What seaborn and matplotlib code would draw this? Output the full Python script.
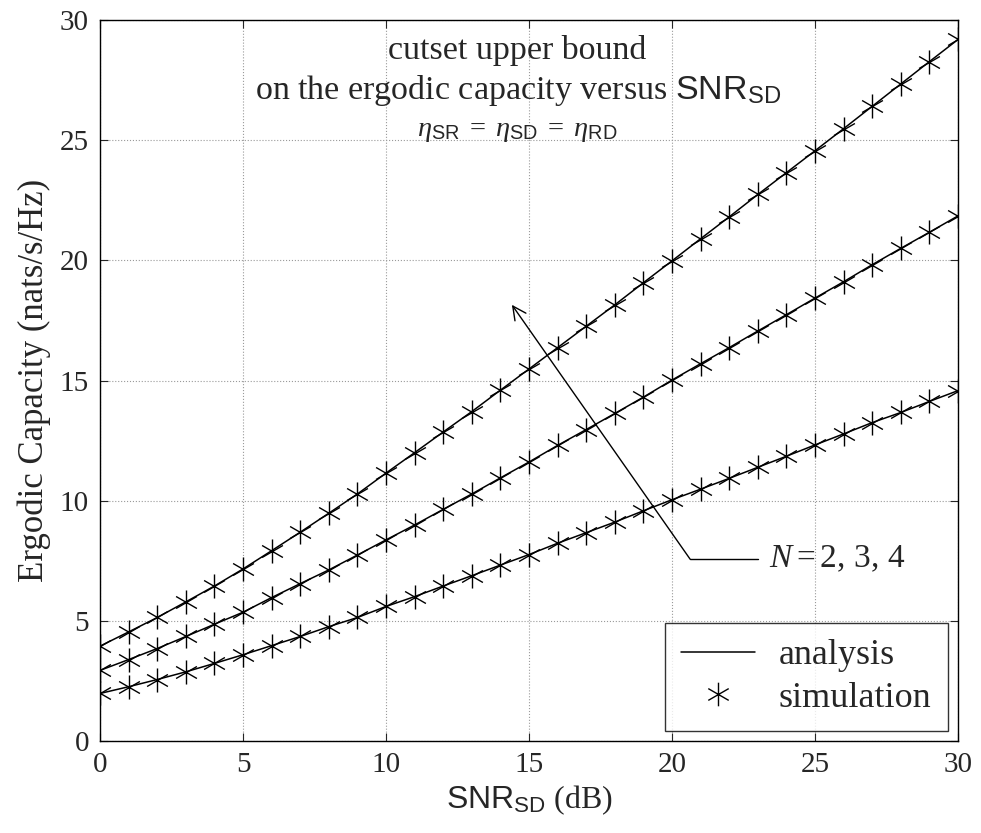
import numpy as np
import pandas as pd
import matplotlib
matplotlib.use('Agg')
import matplotlib.pyplot as plt
import seaborn as sns
from matplotlib.lines import Line2D
from matplotlib.path import Path

# SNR_SD (dB)
snr = list(range(0, 31))

# Ergodic capacity (nats/s/Hz)
cap_n2 = [1.98, 2.26, 2.56, 2.88, 3.23, 3.59, 3.97, 4.35, 4.76, 5.14, 5.60,
          6.01, 6.45, 6.88, 7.32, 7.76, 8.23, 8.67, 9.11, 9.58, 10.04,
          10.48, 10.93, 11.39, 11.85, 12.32, 12.78, 13.25, 13.67, 14.13, 14.58]
cap_n3 = [2.94, 3.39, 3.85, 4.35, 4.86, 5.36, 5.97, 6.55, 7.12, 7.74, 8.37,
          8.99, 9.64, 10.28, 10.95, 11.61, 12.30, 12.96, 13.63, 14.31, 15.02,
          15.70, 16.37, 17.06, 17.74, 18.43, 19.11, 19.82, 20.50, 21.17, 21.85]
cap_n4 = [3.95, 4.54, 5.14, 5.79, 6.45, 7.16, 7.92, 8.69, 9.48, 10.28, 11.15,
          12.00, 12.86, 13.71, 14.60, 15.48, 16.37, 17.26, 18.15, 19.07, 19.98,
          20.90, 21.81, 22.74, 23.65, 24.56, 25.48, 26.41, 27.34, 28.27, 29.19]
relays = ['N=2', 'N=3', 'N=4']

df = pd.DataFrame({
    'snr': snr * 3,
    'cap': cap_n2 + cap_n3 + cap_n4,
    'N': [r for r in relays for _ in snr],
})

sns.set_style('ticks')
plt.rcParams['font.family'] = ['Liberation Serif', 'DejaVu Serif']
plt.rcParams['mathtext.fontset'] = 'custom'
plt.rcParams['mathtext.rm'] = 'Liberation Serif'
plt.rcParams['mathtext.it'] = 'Liberation Serif:italic'
plt.rcParams['mathtext.sf'] = 'Liberation Sans'

# 6-armed asterisk with a vertical arm (matlab style '*')
verts, codes = [], []
for a in (90, 30, 150):
    t = np.deg2rad(a)
    verts += [(np.cos(t), np.sin(t)), (-np.cos(t), -np.sin(t))]
    codes += [Path.MOVETO, Path.LINETO]
star = Path(verts, codes)

fig = plt.figure(figsize=(9.81, 8.33), dpi=100)
ax = fig.add_axes([0.102, 0.1104, 0.8746, 0.8656])

sns.lineplot(data=df, x='snr', y='cap', units='N', estimator=None,
             color='black', lw=1.1, ax=ax, legend=False)
sns.scatterplot(data=df, x='snr', y='cap', marker=star, s=300,
                color='black', linewidth=1.0, edgecolor='black', ax=ax, legend=False)

ax.set_xlim(0, 30)
ax.set_ylim(0, 30)
ax.set_xticks(range(0, 31, 5))
ax.set_yticks(range(0, 31, 5))
ax.grid(True, color='#9a9a9a', linestyle=':', linewidth=0.8)
ax.tick_params(direction='in', top=True, right=True, labelsize=21, length=6, pad=8)
for sp in ax.spines.values():
    sp.set_linewidth(1.0)
    sp.set_color('black')

ax.set_xlabel(r'$\mathsf{SNR}_{\mathsf{SD}}$ (dB)', fontsize=23, labelpad=4)
ax.set_ylabel('Ergodic Capacity (nats/s/Hz)', fontsize=25, labelpad=6)

ax.text(14.6, 28.75, 'cutset upper bound', ha='center', va='center', fontsize=24.5)
ax.text(14.6, 27.05, r'on the ergodic capacity versus $\mathsf{SNR}_{\mathsf{SD}}$',
        ha='center', va='center', fontsize=24.5)
ax.text(14.6, 25.35, r'$\eta_{\mathsf{SR}} \;=\; \eta_{\mathsf{SD}} \;=\; \eta_{\mathsf{RD}}$',
        ha='center', va='center', fontsize=20.5)

# N = 2, 3, 4 annotation
ax.annotate('', xy=(14.4, 18.15), xytext=(20.63, 7.57),
            arrowprops=dict(arrowstyle='->', color='black', lw=1.0,
                            mutation_scale=24, shrinkA=0, shrinkB=0))
ax.plot([20.63, 23.0], [7.57, 7.57], color='black', lw=1.0)
ax.text(23.4, 7.57, r'$N = 2,\, 3,\, 4$', ha='left', va='center', fontsize=24)

handles = [Line2D([], [], color='black', lw=1.1),
           Line2D([], [], color='black', lw=0, marker=star, markersize=17, mew=1.0)]
leg = ax.legend(handles, ['analysis', 'simulation'], loc='lower right',
                bbox_to_anchor=(0.988, 0.014), fontsize=26, frameon=True,
                fancybox=False, edgecolor='black', handlelength=2.05,
                handletextpad=0.65, borderpad=0.45, labelspacing=0.25,
                borderaxespad=0.0)
leg.get_frame().set_linewidth(1.0)

fig.savefig('out.png', dpi=100)
